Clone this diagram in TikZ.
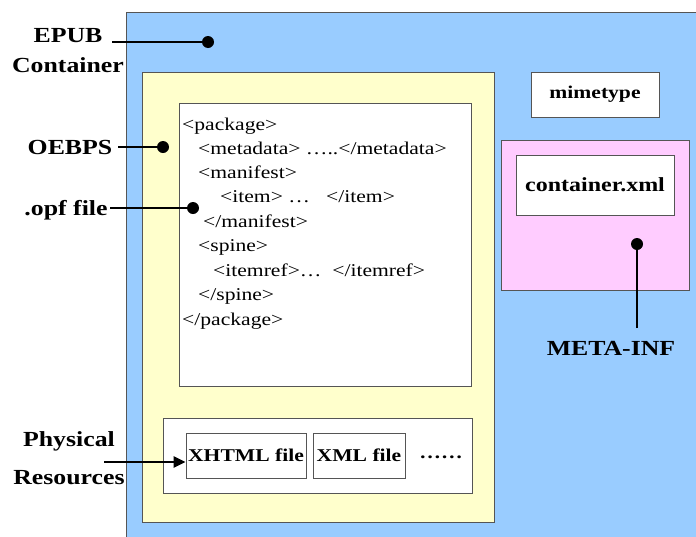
\documentclass[tikz,border=0pt]{standalone}
\usepackage{fontspec}
\setmainfont[FakeStretch=1.2]{Liberation Serif}
\usetikzlibrary{arrows.meta}
\definecolor{epubblue}{HTML}{99CCFF}
\definecolor{oebyellow}{HTML}{FFFFCC}
\definecolor{metapink}{HTML}{FFCCFF}
\definecolor{edge}{HTML}{555555}
\begin{document}
\begin{tikzpicture}[x=1pt,y=-1pt,
  area/.style={draw=edge, line width=0.8pt, rectangle, inner sep=0pt},
  filebox/.style={draw=edge, line width=0.8pt, fill=white, rectangle, inner sep=0pt, font=\fontsize{18}{20}\selectfont\bfseries},
  lbl/.style={font=\fontsize{21.5}{26}\selectfont\bfseries, inner sep=0pt, align=center},
  code/.style={font=\fontsize{18}{20}\selectfont, anchor=base west, inner sep=0pt},
  conn/.style={line width=2.4pt, draw=black},
  dotmark/.style={fill=black, circle, inner sep=0pt, minimum size=12pt}]
\useasboundingbox (0,0) rectangle (696,536);
\node[area, fill=epubblue, minimum width=574pt, minimum height=528pt] (epub) at (413,276) {};
\node[area, fill=oebyellow, minimum width=352pt, minimum height=450pt] (oebps) at (318,297) {};
\node[area, fill=white, minimum width=292pt, minimum height=283pt] (opf) at (325,244.5) {};
\node[area, fill=white, minimum width=309pt, minimum height=75pt] (res) at (317.5,455.5) {};
\node[filebox, minimum width=120pt, minimum height=45pt] (xhtml) at (246,455.5) {XHTML file};
\node[filebox, minimum width=92pt, minimum height=45pt] (xml) at (359,455.5) {XML file};
\node[font=\fontsize{18}{20}\selectfont\bfseries, inner sep=0pt] (more) at (441,457) {……};
\node[filebox, minimum width=128pt, minimum height=45pt] (mime) at (595,94.5) {mimetype};
\node[area, fill=metapink, minimum width=188pt, minimum height=150pt] (meta) at (595,215) {};
\node[filebox, minimum width=158pt, minimum height=60pt, font=\fontsize{20}{22}\selectfont\bfseries] (cont) at (595,185) {container.xml};

% code lines
\node[code] (c1) at (182,130) {<package>};
\node[code] (c2) at (198,154) {<metadata> …..</metadata>};
\node[code] (c3) at (198,178) {<manifest>};
\node[code] (c4) at (220,202.5) {<item> …\ \ \ </item>};
\node[code] (c5) at (203,227) {</manifest>};
\node[code] (c6) at (198,251.5) {<spine>};
\node[code] (c7) at (213,276) {<itemref>…\ \ </itemref>};
\node[code] (c8) at (198,300.5) {</spine>};
\node[code] (c9) at (182,325) {</package>};

% labels
\node[lbl] (lepub) at (68,36) {EPUB};
\node[lbl] (lcont) at (68,65) {Container};
\node[lbl] (loeb) at (70,147) {OEBPS};
\node[lbl] (lopf) at (66,210) {.opf file};
\node[lbl, font=\fontsize{21.5}{38}\selectfont\bfseries] (lres) at (69,458) {Physical\\Resources};
\node[lbl] (lmeta) at (611,348) {META-INF};

% dots
\node[dotmark] (dE) at (208,42) {};
\node[dotmark] (dO) at (163,147) {};
\node[dotmark] (dP) at (193,208) {};
\node[dotmark] (dM) at (637,244) {};
\coordinate (eE) at (112,42);
\coordinate (eO) at (118,147);
\coordinate (eP) at (110,208);
\coordinate (eM) at (637,328);
\coordinate (eR) at (104,462);

\draw[conn] (eE) -- (dE.center);
\draw[conn] (eO) -- (dO.center);
\draw[conn] (eP) -- (dP.center);
\draw[conn] (eM) -- (dM.center);
\draw[conn, -{Triangle[length=12pt,width=11pt]}] (eR) -- (xhtml.west |- eR);
\end{tikzpicture}
\end{document}
